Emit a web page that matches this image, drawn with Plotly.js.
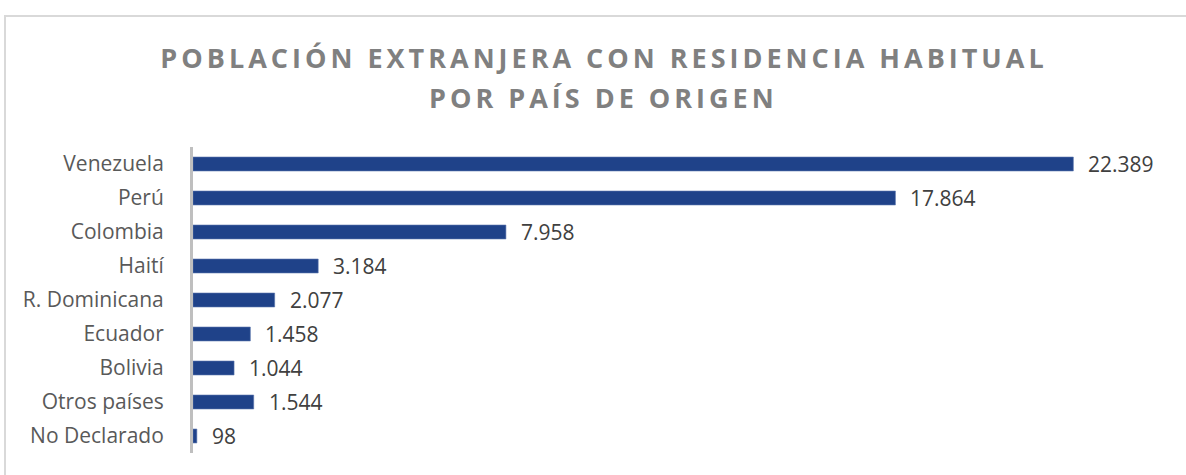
<!DOCTYPE html>
<html>
<head>
<meta charset="utf-8">
<script src="https://cdn.plot.ly/plotly-3.0.1.min.js"></script>
<style>
  html, body { margin: 0; padding: 0; background: #ffffff; }
  #chart { width: 1186px; height: 475px; }
  .gtitle { letter-spacing: 4px; }
</style>
</head>
<body>
<div id="chart"></div>
<script>
const countries = ["Venezuela", "Perú", "Colombia", "Haití", "R. Dominicana", "Ecuador", "Bolivia", "Otros países", "No Declarado"];
const population = [22389, 17864, 7958, 3184, 2077, 1458, 1044, 1544, 98];
const titleLines = ["POBLACIÓN EXTRANJERA CON RESIDENCIA HABITUAL", "POR PAÍS DE ORIGEN"];

function fmt(v) {
  return String(v).replace(/\B(?=(\d{3})+(?!\d))/g, ".");
}

const W = 1186, H = 475;
const M = { l: 193, r: 10, t: 147, b: 22 };
const pw = W - M.l - M.r, ph = H - M.t - M.b;
const titleFont = { family: "Open Sans", size: 27, color: "#808080", weight: 700 };

const trace = {
  type: "bar",
  orientation: "h",
  y: countries,
  x: population,
  marker: { color: "#1f4289", line: { color: "#5b76ad", width: 0.6 } },
  hoverinfo: "skip"
};

const annotations = countries.map((c, i) => ({
  x: population[i], y: c, xref: "x", yref: "y",
  text: fmt(population[i]),
  showarrow: false, xanchor: "left", yanchor: "middle", xshift: 13,
  font: { family: "Open Sans", size: 21, color: "#404040" }
}));

// second title line (positions converted from pixels to paper fractions)
annotations.push({
  x: (603 - M.l) / pw, y: (H - 98 - M.b) / ph, xref: "paper", yref: "paper",
  text: titleLines[1], showarrow: false, xanchor: "center", yanchor: "middle",
  font: titleFont
});

const layout = {
  width: W, height: H,
  margin: M,
  paper_bgcolor: "#ffffff",
  plot_bgcolor: "#ffffff",
  showlegend: false,
  bargap: 0.59,
  title: {
    text: titleLines[0],
    x: 604 / W, xanchor: "center", xref: "container",
    y: 1 - 59 / H, yanchor: "middle", yref: "container",
    font: titleFont
  },
  xaxis: { range: [0, 25000], visible: false, fixedrange: true },
  yaxis: {
    type: "category",
    categoryorder: "array", categoryarray: countries,
    autorange: "reversed",
    showline: true, linecolor: "#bfbfbf", linewidth: 3,
    showgrid: false, zeroline: false,
    ticks: "", ticklabelstandoff: 22,
    tickfont: { family: "Open Sans", size: 21, color: "#595959" },
    fixedrange: true
  },
  annotations: annotations,
  shapes: [{
    type: "rect", xref: "paper", yref: "paper",
    x0: (5 - M.l) / pw, x1: (1200 - M.l) / pw,
    y0: -0.5,
    y1: (H - 16 - M.b) / ph,
    line: { color: "#d9d9d9", width: 2 }, fillcolor: "rgba(0,0,0,0)", layer: "below"
  }]
};

Plotly.newPlot("chart", [trace], layout, { displayModeBar: false, staticPlot: true }).then(gd => {
  gd.querySelectorAll(".annotation-text").forEach(t => {
    if (t.textContent === titleLines[1]) t.style.letterSpacing = "4px";
  });
});
</script>
</body>
</html>
